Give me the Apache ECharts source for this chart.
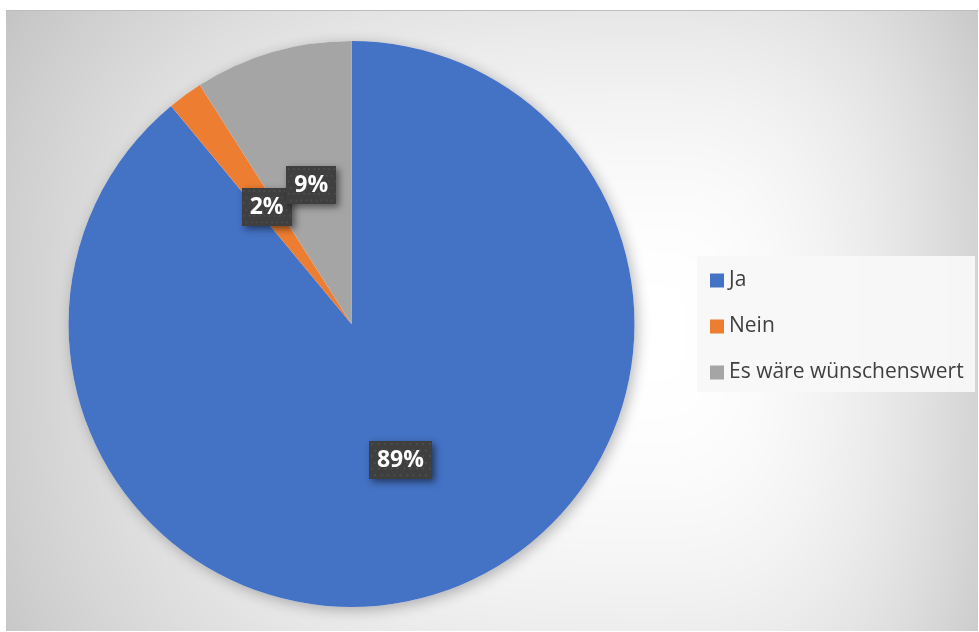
<!DOCTYPE html>
<html>
<head>
<meta charset="utf-8">
<script src="https://cdn.jsdelivr.net/npm/echarts@6/dist/echarts.min.js"></script>
<style>
html,body{margin:0;padding:0;background:#ffffff;}
#chart{width:979px;height:632px;}
</style>
</head>
<body>
<div id="chart"></div>
<script>
const categories = ['Ja', 'Nein', 'Es wäre wünschenswert'];
const values = [89, 2, 9];
const colors = ['#4472C4', '#ED7D31', '#A5A5A5'];

// dotted dark texture for the data label boxes
function makePattern(w, h) {
  const c = document.createElement('canvas');
  c.width = w; c.height = h;
  const ctx = c.getContext('2d');
  ctx.fillStyle = '#3f3f3f';
  ctx.fillRect(0, 0, w, h);
  ctx.fillStyle = '#4e4e4e';
  let row = 0;
  for (let y = 2; y < h; y += 6.5, row++) {
    for (let x = (row % 2 ? 5 : 2); x < w; x += 6.5) {
      ctx.fillRect(Math.round(x), Math.round(y), 2, 2);
    }
  }
  return c;
}
const pattern = makePattern(64, 40);

// soft gray-to-white chart-area background
function makeBackground(w, h, ox, oy) {
  const c = document.createElement('canvas');
  c.width = w; c.height = h;
  const ctx = c.getContext('2d');
  const img = ctx.createImageData(w, h);
  const cx = 650, cy = 330;
  for (let j = 0; j < h; j++) {
    const y = j + oy;
    const dy = y - cy;
    const ry = dy < 0 ? 500 : 555;
    const ty = Math.abs(dy) / ry;
    for (let i = 0; i < w; i++) {
      const x = i + ox;
      const dx = x - cx;
      const rx = dx < 0 ? 720 : 386;
      const tx = Math.abs(dx) / rx;
      const t = Math.cbrt(tx * tx * tx + ty * ty * ty);
      const v = Math.max(185, Math.round(255 - 60 * t * t));
      const k = (j * w + i) * 4;
      img.data[k] = v; img.data[k + 1] = v; img.data[k + 2] = v; img.data[k + 3] = 255;
    }
  }
  ctx.putImageData(img, 0, 0);
  return c;
}
const bg = makeBackground(972, 621, 6, 10);

const chart = echarts.init(document.getElementById('chart'), null, {renderer: 'canvas'});
const option = {
  animation: false,
  backgroundColor: '#ffffff',
  color: colors,
  graphic: [
    {
      type: 'image', z: -10, silent: true,
      style: {image: bg, x: 6, y: 10, width: 972, height: 621}
    },
    {
      type: 'line', z: -9, silent: true,
      shape: {x1: 6, y1: 10.5, x2: 978, y2: 10.5},
      style: {stroke: '#bdbdbd', lineWidth: 1}
    },
    {
      type: 'rect', z: -5, silent: true,
      shape: {x: 697, y: 256, width: 278, height: 136},
      style: {fill: 'rgba(248,248,248,0.95)'}
    }
  ],
  legend: {
    orient: 'vertical',
    left: 705,
    top: 265,
    itemWidth: 14,
    itemHeight: 14,
    itemGap: 25,
    icon: 'rect',
    data: categories,
    textStyle: {
      fontFamily: 'Open Sans',
      fontSize: 21,
      color: '#404040',
      lineHeight: 20
    }
  },
  series: [
    {
      type: 'pie',
      name: 'shadow',
      silent: true,
      z: 1,
      center: [351.5, 324],
      radius: [0, 283],
      label: {show: false},
      labelLine: {show: false},
      emphasis: {disabled: true},
      tooltip: {show: false},
      itemStyle: {
        color: '#ffffff',
        shadowColor: 'rgba(0,0,0,0.28)',
        shadowBlur: 14,
        shadowOffsetX: 3,
        shadowOffsetY: 3
      },
      data: [{name: '', value: 1}]
    },
    {
      type: 'pie',
      z: 2,
      center: [351.5, 324],
      radius: [0, 283],
      startAngle: 90,
      clockwise: true,
      avoidLabelOverlap: false,
      labelLine: {show: false},
      labelLayout: {hideOverlap: false},
      itemStyle: {borderWidth: 0},
      emphasis: {disabled: true},
      label: {
        show: true,
        position: 'inside',
        formatter: '{d}%',
        fontFamily: 'Open Sans',
        fontWeight: 'bold',
        fontSize: 23,
        color: '#ffffff',
        padding: [8, 8, 7, 8],
        backgroundColor: {image: pattern},
        shadowColor: 'rgba(0,0,0,0.5)',
        shadowBlur: 7,
        shadowOffsetX: 3,
        shadowOffsetY: 3
      },
      data: categories.map((name, i) => ({name: name, value: values[i]}))
    }
  ]
};
chart.setOption(option);
</script>
</body>
</html>
